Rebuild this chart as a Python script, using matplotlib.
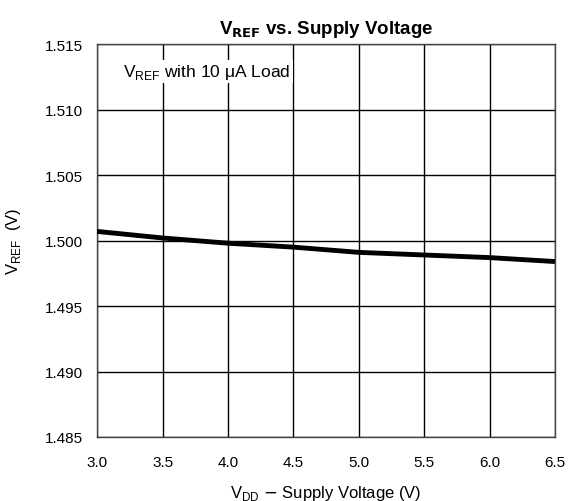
import matplotlib.pyplot as plt
import numpy as np

# Data
vdd = [3.0, 3.5, 4.0, 4.5, 5.0, 5.5, 6.0, 6.5]
vref = [1.5007, 1.5002, 1.4998, 1.4995, 1.4991, 1.4989, 1.4987, 1.4984]

x_ticks = [3.0, 3.5, 4.0, 4.5, 5.0, 5.5, 6.0, 6.5]
y_ticks = [1.485, 1.490, 1.495, 1.500, 1.505, 1.510, 1.515]

plt.rcParams['font.family'] = ['Liberation Sans', 'DejaVu Sans']

fig = plt.figure(figsize=(5.68, 5.02), dpi=100)
ax = fig.add_axes([0.171, 0.1275, 0.806, 0.7825])

ax.plot(vdd, vref, color='black', linewidth=3.5, solid_capstyle='butt', zorder=3)

ax.set_xlim(3.0, 6.5)
ax.set_ylim(1.485, 1.515)
ax.set_xticks(x_ticks)
ax.set_xticklabels([f'{t:.1f}' for t in x_ticks])
ax.set_yticks(y_ticks)
ax.set_yticklabels([f'{t:.3f}' for t in y_ticks])
ax.tick_params(length=0, labelsize=11, pad=13)
ax.tick_params(axis='y', pad=10)
ax.grid(True, color='black', linewidth=1.0)
for s in ax.spines.values():
    s.set_linewidth(1.0)
    s.set_color('#444444')

ax.text(3.2, 1.5129, r'V$_{\mathregular{REF}}$ with 10 $\mathregular{\mu}$A Load', fontsize=12.5,
        va='center', ha='left', zorder=4,
        bbox=dict(facecolor='white', edgecolor='none', pad=1.5))

ax.set_title(r'V$_{\mathbf{REF}}$ vs. Supply Voltage', fontsize=13.5, fontweight='bold', pad=8)
ax.set_xlabel(r'V$_{\mathregular{DD}}$ $-$ Supply Voltage (V)', fontsize=12, labelpad=10)
ax.set_ylabel(r'V$_{\mathregular{REF}}$  (V)', fontsize=12, labelpad=16)

fig.savefig('out.png', dpi=100)
